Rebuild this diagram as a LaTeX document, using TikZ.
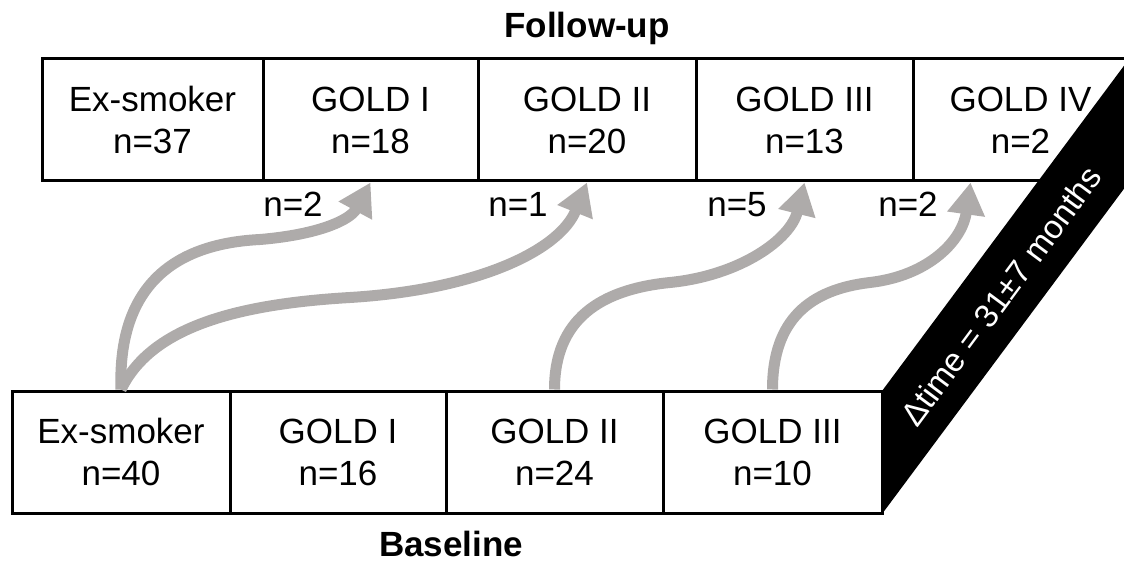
\documentclass[tikz,border=0pt]{standalone}
\usepackage{fontspec}
\setmainfont{Liberation Sans}
\usetikzlibrary{arrows.meta}
\definecolor{arrgray}{RGB}{174,171,170}
\begin{document}
\begin{tikzpicture}[x=1pt,y=-1pt,
  box/.style={draw, line width=3pt, rectangle, inner sep=0pt, minimum height=122pt, align=center, font=\fontsize{35}{42}\selectfont},
  arr/.style={draw=arrgray, line width=11pt, -{Triangle[length=32pt,width=36pt]}},
  lab/.style={anchor=base, inner sep=0pt, font=\fontsize{35}{42}\selectfont},
  ttl/.style={anchor=base, inner sep=0pt, font=\fontsize{35}{42}\selectfont\bfseries},
  bandtxt/.style={text=white, inner sep=0pt, rotate=53.5, font=\fontsize{33}{40}\selectfont}]
\useasboundingbox (0,0) rectangle (1124,561);

% follow-up row
\node[box, minimum width=221pt] (t1) at (152.5,120) {Ex-smoker\\n=37};
\node[box, minimum width=215pt] (t2) at (370.5,120) {GOLD I\\n=18};
\node[box, minimum width=218pt] (t3) at (587,120) {GOLD II\\n=20};
\node[box, minimum width=217pt] (t4) at (804.5,120) {GOLD III\\n=13};
\node[box, minimum width=215pt] (t5) at (1020.5,120) {GOLD IV\\n=2};

% baseline row
\node[box, minimum width=218pt] (b1) at (121,452) {Ex-smoker\\n=40};
\node[box, minimum width=216pt] (b2) at (338,452) {GOLD I\\n=16};
\node[box, minimum width=217pt] (b3) at (554.5,452) {GOLD II\\n=24};
\node[box, minimum width=219pt] (b4) at (772.5,452) {GOLD III\\n=10};

% titles
\node[ttl] (fu) at (587,38) {Follow-up};
\node[ttl] (bl) at (451,556) {Baseline};

% transitions
\draw[arr] (b1.north) .. controls +(-3,-90) and +(-100,5) .. ++(139,-150)
  .. controls +(60,-5) and +(-20,37) .. (t2.south);
\draw[arr] (b1.north) .. controls +(29,-60) and +(-120,7) .. ++(229,-92)
  .. controls +(130,-8) and +(-27,67) .. (t3.south);
\draw[arr] (b3.north) .. controls +(0,-70) and +(-70,7) .. ++(115.5,-107)
  .. controls +(70,-7) and +(-14,57) .. (t4.south);
\draw[arr] (b4.north) .. controls +(0,-70) and +(-60,7) .. ++(97.5,-107)
  .. controls +(60,-7) and +(-8,57) .. ([xshift=-50pt]t5.south);

% counts
\node[lab] (n1) at (293,217) {n=2};
\node[lab] (n2) at (518,217) {n=1};
\node[lab] (n3) at (737,217) {n=5};
\node[lab] (n4) at (908,217) {n=2};

% time band
\fill[black] (882,391) -- (1129,59) -- (1129,182) -- (882,514) -- cycle;
\node[bandtxt] (dt) at (1001,296) {Δtime = 31±7 months};
\end{tikzpicture}
\end{document}
